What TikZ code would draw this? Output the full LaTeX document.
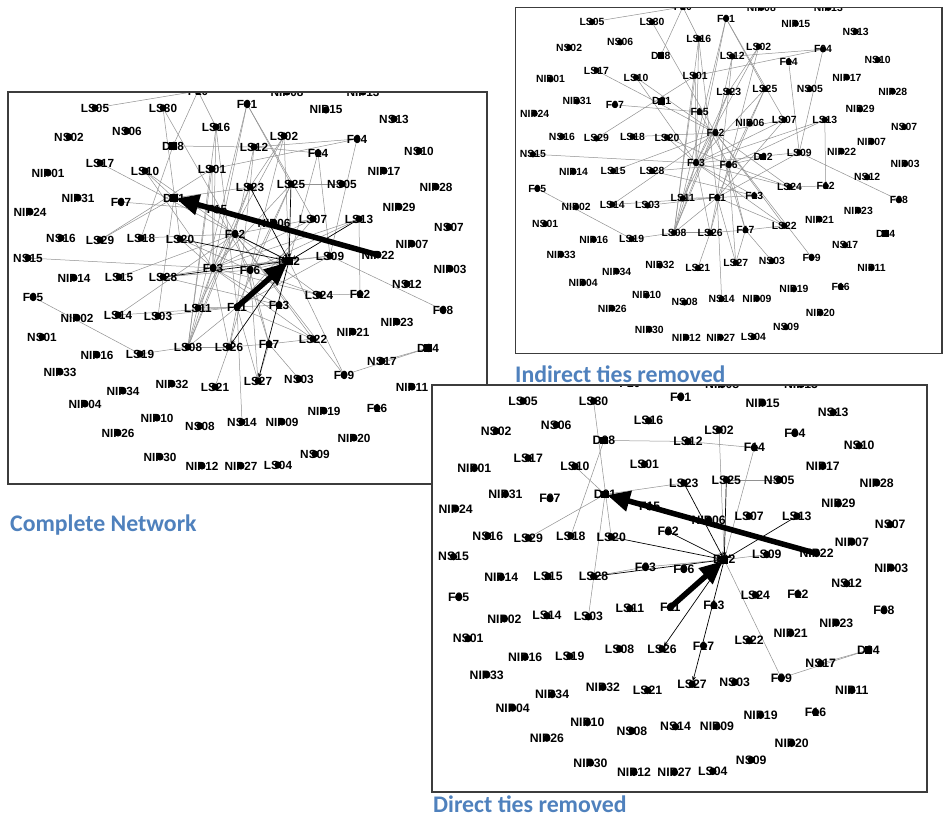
\documentclass[tikz,border=0pt]{standalone}
\usepackage{fontspec}
\setmainfont{Liberation Sans}
\newfontfamily\headfont{Carlito}
\usetikzlibrary{arrows.meta}

\definecolor{headblue}{RGB}{79,129,189}
\definecolor{tiegray}{RGB}{145,145,145}
\definecolor{framegray}{RGB}{60,60,60}

\tikzset{
  lbl/.style={font=\bfseries\fontsize{11.8}{12}\selectfont, inner sep=0pt, text=black},
  tie/.style={draw=tiegray, line width=0.5pt},
  dtie/.style={draw=black, line width=0.7pt, -{Stealth[length=5pt,width=4pt]}, shorten >=3pt},
  bigtie/.style={draw=black, line width=5.5pt, -{Triangle[length=23pt,width=20pt]}, shorten >=2pt},
  frame/.style={draw=framegray, line width=1.2pt},
  heading/.style={font=\headfont\bfseries\fontsize{23.8}{26}\selectfont, text=headblue, inner sep=0pt, anchor=west},
}

% actor positions (common layout, drawn at the scale of the complete network)
\def\nodecoords{LS05/95/108, LS30/163/108, F10/198/91, NIP08/287/92, NIP13/363/92,
 F01/247/104, NIP15/326/110, NS13/394/119, LS16/216/127, NS02/69/137, NS06/127/131,
 LS02/284/136, D08/173/146, LS12/254/147, F04/357/139, F14/318/153, NS10/419/151,
 LS17/100/163, NIP01/48/173, LS10/145/171, LS01/212/169, NIP17/384/171, LS25/291/184,
 NS05/342/184, LS23/250/187, NIP28/436/187, NIP31/78/198, F07/121/202, D01/174/198,
 F15/217/210, NIP24/30/212, NIP29/399/207, LS07/313/219, LS13/359/219, NIP06/274/223,
 NS07/449/227, F02/235/234, NS16/61/238, LS29/100/240, LS18/141/238, LS20/180/239,
 NIP07/412/244, NIP22/378/255, LS09/330/256, D02/289/261, NS15/28/258, F03/213/268,
 F06/250/270, NIP03/450/269, NIP14/74/278, LS15/119/277, LS28/163/277, NS12/407/284,
 LS24/319/295, F12/360/294, F05/33/297, F13/279/305, F11/237/307, LS11/198/308,
 F08/443/310, LS14/118/315, LS03/158/316, NIP02/77/318, NIP23/397/322, NIP21/353/332,
 NS01/42/337, LS22/313/339, F17/269/344, LS08/188/347, LS26/229/347, D04/428/348,
 NIP16/97/355, LS19/140/354, NS17/382/361, NIP33/60/372, F09/344/375, NS03/299/379,
 LS27/258/381, NIP32/172/384, LS21/215/387, NIP11/412/387, NIP34/123/391, NIP04/85/404,
 F16/377/408, NIP19/324/411, NIP10/157/418, NIP09/282/422, NS14/242/422, NS08/200/426,
 NIP26/118/433, NIP20/354/438, NS09/315/454, NIP30/160/457, LS04/278/465,
 NIP12/202/466, NIP27/241/466}

\def\circnodes{LS05, LS30, F10, NIP08, NIP13, F01, NIP15, NS13, LS16, NS02, NS06,
 LS02, LS12, F04, F14, NS10, LS17, NIP01, LS10, LS01, NIP17, LS25, NS05, LS23, NIP28,
 NIP31, F07, F15, NIP24, NIP29, LS07, LS13, NIP06, NS07, F02, NS16, LS29, LS18, LS20,
 NIP07, NIP22, LS09, NS15, F03, F06, NIP03, NIP14, LS15, LS28, NS12, LS24, F12, F05,
 F13, F11, LS11, F08, LS14, LS03, NIP02, NIP23, NIP21, NS01, LS22, F17, LS08, LS26,
 NIP16, LS19, NS17, NIP33, F09, NS03, LS27, NIP32, LS21, NIP11, NIP34, NIP04, F16,
 NIP19, NIP10, NIP09, NS14, NS08, NIP26, NIP20, NS09, NIP30, LS04, NIP12, NIP27}
\def\sqnodes{D01, D02, D04, D08}

% ties through third parties
\def\tiesindirect{LS05/F10, F10/D08, F10/LS16, LS30/F02, LS16/F03, LS16/LS08, LS01/F03,
 LS01/LS08, LS01/F04, F01/F03, F01/LS25, F01/LS07, LS02/LS23, LS02/F06, LS02/F03,
 LS12/F04, LS12/F02, F14/LS09, F04/LS09, LS10/F02, LS10/F03, LS17/F02, F07/F15, F15/F06,
 LS29/LS01, LS18/F02, NS15/F03, LS15/F02, LS28/F06, F05/LS19, LS19/LS08, LS14/F11,
 LS03/F11, LS14/F02, LS08/F02, LS08/F03, LS08/F11, LS08/LS23, LS26/F11, LS26/LS21,
 LS26/LS08, LS26/F06, LS26/F03, F11/NS14, LS23/F03, LS23/F11, LS25/F06, LS25/F03,
 LS25/F11, LS07/F03, LS07/F02, LS07/F11, LS13/F12, LS13/F06, LS13/F03, LS09/F03,
 LS09/F11, LS09/F08, LS24/F12, LS24/F03, LS24/F06, LS24/F02, F13/F11, F13/F03, F13/LS28,
 F17/LS22, F17/LS27, F17/NS03, F17/F06, F17/F02, F17/LS26, LS22/F03, LS22/F02, LS22/F11,
 F11/LS27, F06/LS27, LS11/F03, LS11/F11, LS11/F02, F06/D02, LS20/F06, LS20/F03, F02/F09,
 LS16/F11, F01/LS08, LS12/LS23}

% direct ties
\def\directgray{D08/LS12, D08/LS18, LS30/LS20, LS10/D01, D01/LS29, D01/LS03, D01/LS23,
 LS02/D02, LS12/F14, F14/D02, LS25/NS05, D02/LS09, D02/F09, F09/D04, NS17/D04, F03/D02,
 LS28/F03}
\def\directarrows{F02/D02, LS20/D02, LS23/D02, LS25/D02, LS13/D02, LS28/D02, D02/LS27,
 D02/LS26}

\newcommand\placeactors{%
  \foreach \n/\x/\y in \nodecoords {\coordinate (\n) at (\x,\y);}%
}
\newcommand\drawactors{%
  \foreach \n in \circnodes {%
    \node[lbl] (t\n) at (\n) {\n};
    \fill (\n) circle (3.6);
  }%
  \foreach \n in \sqnodes {%
    \node[lbl] (t\n) at (\n) {\n};
    \fill ([shift={(-3.7,-3.7)}]\n) rectangle ([shift={(3.7,3.7)}]\n);
  }%
}
\newcommand\grayties[1]{\foreach \a/\b in #1 {\draw[tie] (\a) -- (\b);}}
\newcommand\arrowties{\foreach \a/\b in \directarrows {\draw[dtie] (\a) -- (\b);}}
\newcommand\bigties{%
  \draw[bigtie] (NIP22) -- (D01);
  \draw[bigtie] (F11) -- (D02);
}

\begin{document}
\begin{tikzpicture}[x=1pt, y=-1pt]
\useasboundingbox (0,0) rectangle (943,818);
\fill[white] (0,0) rectangle (943,818);

% complete network
\begin{scope}
  \fill[white] (8,92) rectangle (487,484);
  \begin{scope}
    \clip (8,92) rectangle (487,484);
    \placeactors
    \grayties{\tiesindirect}
    \grayties{\directgray}
    \arrowties
    \bigties
    \drawactors
  \end{scope}
  \draw[frame] (8,92) rectangle (487,484);
\end{scope}
\node[heading] (hcomplete) at (10,525) {Complete Network};

% indirect ties removed
\node[heading] (hindirect) at (515,374) {Indirect ties removed};
\begin{scope}[shift={(508.2,-73.3)}, scale=0.882, transform shape]
  \fill[white] (8,92) rectangle (491.8,484);
  \begin{scope}
    \clip (8,92) rectangle (491.8,484);
    \placeactors
    \grayties{\tiesindirect}
    \drawactors
  \end{scope}
  \draw[frame] (8,92) rectangle (491.8,484);
\end{scope}

% direct ties removed
\begin{scope}[shift={(424.5,289)}, scale=1.037, transform shape]
  \fill[white] (7.2,92.6) rectangle (484.6,485);
  \begin{scope}
    \clip (7.2,92.6) rectangle (484.6,485);
    \placeactors
    \grayties{\directgray}
    \arrowties
    \bigties
    \drawactors
  \end{scope}
  \draw[frame] (7.2,92.6) rectangle (484.6,485);
\end{scope}
\node[heading] (hdirect) at (433,804) {Direct ties removed};
\end{tikzpicture}
\end{document}
